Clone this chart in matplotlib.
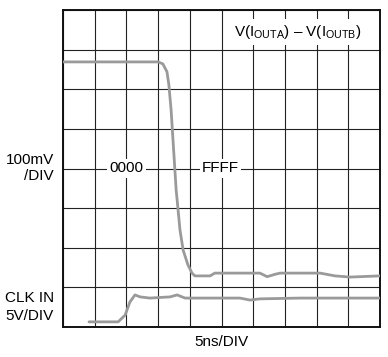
import matplotlib
matplotlib.use("Agg")
import matplotlib.pyplot as plt
from matplotlib import font_manager

# ---- data (in scope divisions) ----
out_x = [0, 3.0, 3.15, 3.28, 3.34, 3.41, 3.47, 3.53, 3.57, 3.60, 3.69, 3.79, 3.94, 4.07, 4.16, 4.64, 4.79, 6.21, 6.44, 6.69, 6.85, 8.11, 8.58, 9.05, 10.0]
out_y = [6.69, 6.69, 6.64, 6.44, 6.11, 5.48, 4.72, 3.96, 3.45, 3.21, 2.45, 1.94, 1.57, 1.36, 1.29, 1.29, 1.36, 1.36, 1.27, 1.33, 1.36, 1.36, 1.29, 1.26, 1.29]
clk_x = [0.82, 1.74, 1.96, 2.11, 2.27, 2.43, 2.74, 3.38, 3.60, 3.85, 5.58, 5.90, 6.21, 7.48, 10.0]
clk_y = [0.13, 0.13, 0.30, 0.63, 0.81, 0.76, 0.73, 0.76, 0.81, 0.73, 0.73, 0.68, 0.71, 0.73, 0.73]
x_divs = list(range(11))
y_divs = list(range(9))

names = {f.name for f in font_manager.fontManager.ttflist}
fam = [f for f in ["Liberation Sans Narrow", "Liberation Sans", "DejaVu Sans"] if f in names]
plt.rcParams['font.family'] = fam
plt.rcParams['mathtext.fontset'] = 'custom'
plt.rcParams['mathtext.rm'] = fam[0]
FS = 11

fig = plt.figure(figsize=(3.88, 3.57), dpi=100)
ax = fig.add_axes([63/388, 30/357, 317/388, 317/357])
ax.set_xlim(0, 10)
ax.set_ylim(0, 8)
ax.set_xticks(x_divs)
ax.set_yticks(y_divs)
ax.tick_params(length=0, labelbottom=False, labelleft=False)
ax.grid(True, color='#222222', linewidth=0.8)
for s in ax.spines.values():
    s.set_linewidth(1.4)
    s.set_color('#111111')

ax.plot(out_x, out_y, color='#9a9a9a', linewidth=2.0, solid_capstyle='round', zorder=3)
ax.plot(clk_x, clk_y, color='#9a9a9a', linewidth=2.0, solid_capstyle='round', zorder=3)

bb = dict(facecolor='white', edgecolor='none', pad=1.5)
ax.text(2.0, 4.0, '0000', ha='center', va='center', fontsize=FS, bbox=bb, zorder=4)
ax.text(4.97, 4.0, 'FFFF', ha='center', va='center', fontsize=FS, bbox=bb, zorder=4)
ax.text(7.4, 7.45, r'V(I$_{\mathregular{OUTA}}$) – V(I$_{\mathregular{OUTB}}$)', ha='center', va='center',
        fontsize=FS, bbox=dict(facecolor='white', edgecolor='none', pad=3), zorder=4)

fig.text(54/388, 1 - 168/357, '100mV\n/DIV', ha='right', va='center', fontsize=FS, linespacing=1.15)
fig.text(54/388, 1 - 307/357, 'CLK IN\n5V/DIV', ha='right', va='center', fontsize=FS, linespacing=1.3)
fig.text(221/388, 1 - 342/357, '5ns/DIV', ha='center', va='center', fontsize=FS)

fig.savefig('out.png', dpi=100)
